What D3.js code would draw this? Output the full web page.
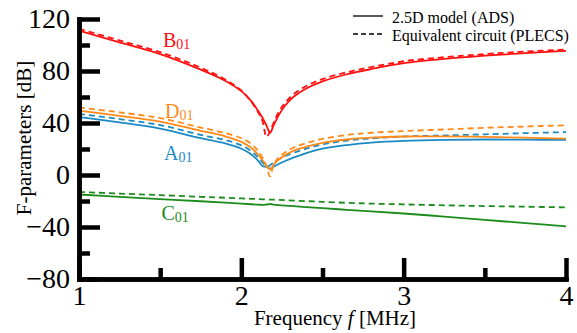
<!DOCTYPE html>
<html>
<head>
<meta charset="utf-8">
<script src="https://cdn.jsdelivr.net/npm/d3@7"></script>
</head>
<body style="margin:0">
<script>
// frequency grid (MHz), denser around the resonance
const freq = [1.0, 1.25, 1.5, 1.75, 1.9, 2.0, 2.06, 2.1, 2.13, 2.155, 2.177, 2.2, 2.23, 2.27, 2.32, 2.4, 2.5, 2.65, 2.8, 3.0, 3.25, 3.5, 3.75, 4.0];

// solid = 2.5D model (ADS), dashed = equivalent circuit (PLECS)
const bModel   = [111, 102, 93, 81, 72.5, 64.5, 57, 50, 44, 38, 32.5, 38.5, 46, 53.5, 60, 66.5, 72, 77.5, 81.5, 86, 89.3, 91.8, 93.8, 95.5];
const bCircuit = [112.5, 103.5, 94.5, 82.5, 73.5, 65, 56.5, 49, 41.5, 29.3, 33.5, 40.5, 48.5, 55.5, 62, 68.5, 73.8, 79, 83, 87.5, 90.6, 93, 95, 96.5];
const dModel   = [49.5, 45.5, 41, 34, 29.8, 25.5, 21, 16.3, 11.5, 7.3, 4.2, 8, 11.8, 15.3, 18.5, 21.8, 24.8, 27.3, 28.7, 29.6, 29.7, 29.3, 28.7, 28];
const dCircuit = [52, 48.2, 43.8, 36.5, 32.3, 28.3, 24, 19, 13.5, 6.5, -1, 8.5, 13.5, 17.5, 21, 24.5, 27.8, 30.8, 32.5, 33.8, 35, 36.3, 37.3, 38.2];
const aModel   = [44.5, 40.5, 35.7, 28.3, 24.3, 20.2, 16, 11.5, 7, 6.2, 4.8, 6.5, 8.5, 10.8, 13.3, 16.8, 20.2, 23, 24.9, 26.2, 27, 27.3, 27.2, 27];
const aCircuit = [47, 43, 38.4, 30.8, 27, 22.8, 18.5, 14, 9.8, 6.8, 7.5, 9.8, 12, 14.5, 17, 20.3, 23.5, 26.5, 28.2, 29.6, 30.4, 31.3, 32.2, 33];
const cModel   = [-15, -16.8, -18.5, -20.2, -21.3, -22, -22.5, -22.8, -23, -22.7, -22.3, -22.8, -23.2, -23.6, -24, -24.7, -25.5, -26.8, -28, -29.6, -32, -34.5, -37, -39.5];
const cCircuit = [-13, -14.3, -15.5, -16.8, -17.5, -18, -18.3, -18.5, -18.7, -18.8, -18.9, -19, -19.2, -19.4, -19.7, -20.1, -20.6, -21.4, -22, -22.6, -23.3, -23.9, -24.4, -24.9];

const xTicks = [1, 2, 3, 4];
const xMinor = [1.5, 2.5, 3.5];
const yTicks = [-80, -40, 0, 40, 80, 120];
const yMinor = [-60, -20, 20, 60, 100];

const colors = { A: '#1a8ac6', B: '#ff1010', C: '#1b8c1b', D: '#ff8a1a' };
const FONT = '"Liberation Serif"';

const width = 577, height = 333;
const svg = d3.select('body').append('svg')
  .attr('width', width)
  .attr('height', height);

const x = d3.scaleLinear().domain([1, 4]).range([79, 566]);
const y = d3.scaleLinear().domain([-80, 120]).range([279, 19]);

const line = d3.line()
  .x(d => x(d[0]))
  .y(d => y(d[1]))
  .curve(d3.curveCatmullRom.alpha(0.5));

const series = [
  { key: 'C', vals: cCircuit, dash: true },
  { key: 'C', vals: cModel, dash: false },
  { key: 'A', vals: aCircuit, dash: true },
  { key: 'A', vals: aModel, dash: false },
  { key: 'D', vals: dCircuit, dash: true },
  { key: 'D', vals: dModel, dash: false },
  { key: 'B', vals: bCircuit, dash: true },
  { key: 'B', vals: bModel, dash: false }
];

svg.append('g').selectAll('path')
  .data(series)
  .enter()
  .append('path')
  .attr('d', s => line(freq.map((f, i) => [f, s.vals[i]])))
  .attr('fill', 'none')
  .attr('stroke', s => colors[s.key])
  .attr('stroke-width', 1.8)
  .attr('stroke-dasharray', s => s.dash ? '6,4' : null);

// axes: ticks point inward
function styleAxis(g) {
  g.selectAll('.domain').attr('stroke-width', 4.5).attr('stroke-linecap', 'square');
  g.selectAll('.tick line').attr('stroke-width', 4.5);
  g.selectAll('.tick text')
    .style('font-family', FONT)
    .attr('font-size', 28)
    .attr('fill', '#000');
}

svg.append('g')
  .attr('transform', 'translate(79,0)')
  .call(d3.axisLeft(y).tickValues(yMinor).tickSize(-11).tickSizeOuter(0).tickFormat(''))
  .call(styleAxis);
svg.append('g')
  .attr('transform', 'translate(0,279)')
  .call(d3.axisBottom(x).tickValues(xMinor).tickSize(-11).tickSizeOuter(0).tickFormat(''))
  .call(styleAxis);

svg.append('g')
  .attr('transform', 'translate(79,0)')
  .call(d3.axisLeft(y).tickValues(yTicks).tickSize(-21).tickSizeOuter(0).tickPadding(9).tickFormat(d3.format('d')))
  .call(styleAxis);
svg.append('g')
  .attr('transform', 'translate(0,279)')
  .call(d3.axisBottom(x).tickValues(xTicks).tickSize(-21).tickSizeOuter(0).tickPadding(6).tickFormat(d3.format('d')))
  .call(styleAxis);

// axis titles
svg.append('text')
  .attr('transform', 'translate(31,138) rotate(-90)')
  .attr('text-anchor', 'middle')
  .style('font-family', FONT)
  .attr('font-size', 21)
  .text('F-parameters [dB]');

const xt = svg.append('text')
  .attr('x', 335)
  .attr('y', 325)
  .attr('text-anchor', 'middle')
  .style('font-family', FONT)
  .attr('font-size', 21);
xt.append('tspan').text('Frequency ');
xt.append('tspan').attr('font-style', 'italic').text('f');
xt.append('tspan').text(' [MHz]');

// curve labels with subscripts
const curveLabels = [
  { key: 'B', x: 163, y: 46.5 },
  { key: 'D', x: 165, y: 118 },
  { key: 'A', x: 164, y: 159.5 },
  { key: 'C', x: 161.5, y: 220 }
];
curveLabels.forEach(l => {
  const t = svg.append('text')
    .attr('x', l.x)
    .attr('y', l.y)
    .attr('fill', colors[l.key])
    .style('font-family', FONT)
    .attr('font-size', 20);
  t.append('tspan').text(l.key);
  t.append('tspan').attr('font-size', 14).attr('dy', 2).text('01');
});

// legend
const legendItems = [
  { label: '2.5D model (ADS)', dash: null, y: 16 },
  { label: 'Equivalent circuit (PLECS)', dash: '5,3', y: 34 }
];
const lg = svg.append('g');
legendItems.forEach(it => {
  lg.append('line')
    .attr('x1', 353).attr('x2', 383)
    .attr('y1', it.y).attr('y2', it.y)
    .attr('stroke', '#000')
    .attr('stroke-width', 1.3)
    .attr('stroke-dasharray', it.dash);
  lg.append('text')
    .attr('x', 392)
    .attr('y', it.y + 6.5)
    .style('font-family', FONT)
    .attr('font-size', 16)
    .text(it.label);
});
</script>
</body>
</html>
